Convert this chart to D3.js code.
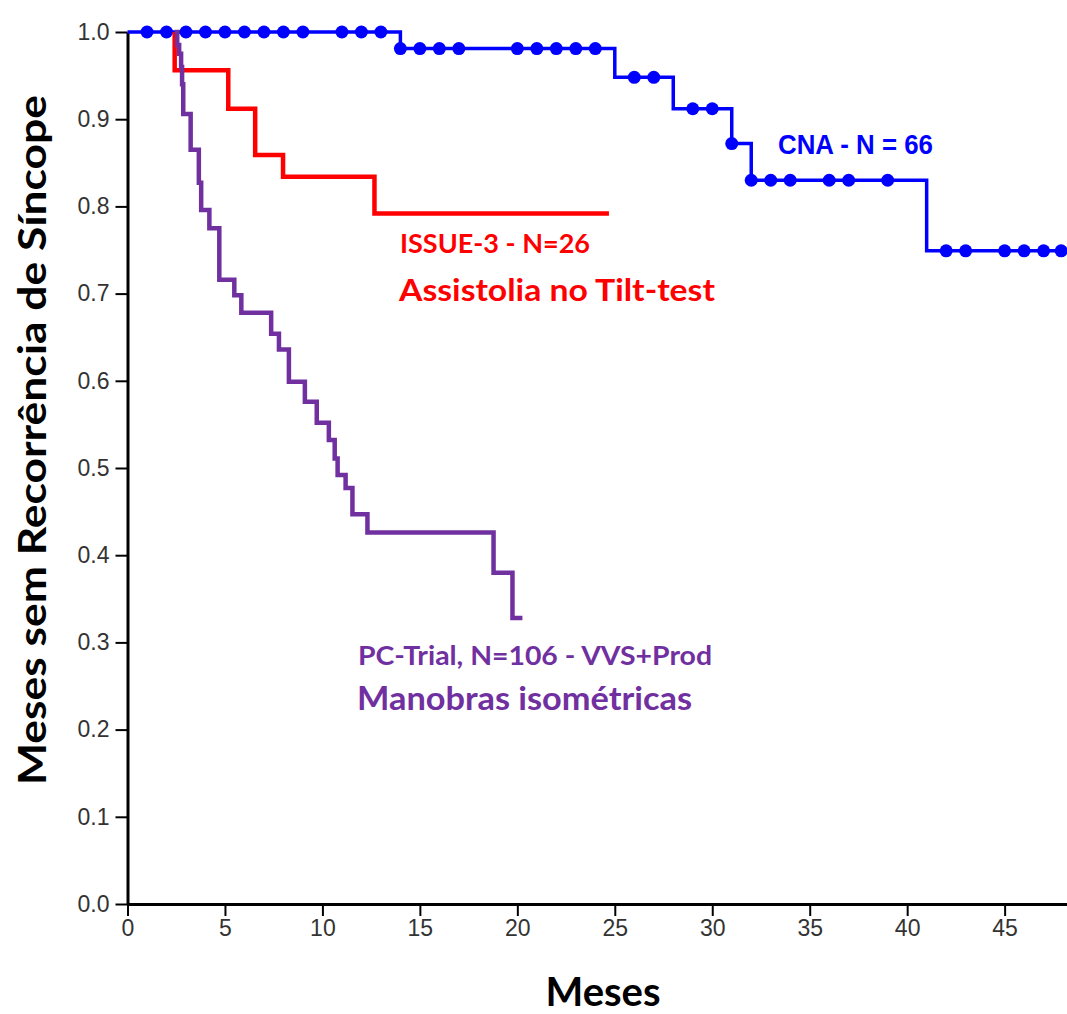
<!DOCTYPE html>
<html><head><meta charset="utf-8">
<script src="https://cdn.jsdelivr.net/npm/d3@7"></script>
<style>body{margin:0;background:#fff}svg{display:block}</style>
</head><body><svg id="c" width="1067" height="1014"></svg>
<script>
// ---- data ----
const xTickValues = [0,5,10,15,20,25,30,35,40,45];
const yTickValues = [0,0.1,0.2,0.3,0.4,0.5,0.6,0.7,0.8,0.9,1.0];

// CNA (blue) Kaplan-Meier
const cnaEventTimes = [0,14,25,28,31,32,41];
const cnaSurvival   = [1.0,0.981,0.948,0.912,0.872,0.830,0.749];
const cnaEnd = 48.2;
const cnaCensored = [1,2,3,4,5,6,7,8,9,11,12,13,14,15,16,17,20,21,22,23,24,26,27,29,30,31,32,33,34,36,37,39,42,43,45,46,47,47.9];

// ISSUE-3 (red)
const issueStart = 2.42;
const issueEventTimes = [2.42,5.17,6.55,7.98,12.67];
const issueSurvival   = [0.956,0.912,0.859,0.834,0.792];
const issueEnd = 24.7;

// PC-Trial (purple)
const pcStart = 2.42;
const pcEventTimes = [2.55,2.65,2.75,2.8,2.86,3.24,3.66,3.78,4.2,4.71,5.48,5.84,7.37,7.77,8.28,9.1,9.71,10.33,10.63,10.78,11.19,11.54,12.31,18.78,19.75];
const pcSurvival   = [0.985,0.975,0.96,0.94,0.906,0.865,0.827,0.796,0.775,0.716,0.698,0.678,0.654,0.636,0.599,0.576,0.552,0.532,0.511,0.492,0.477,0.447,0.426,0.380,0.328];
const pcEnd = 20.26;

// ---- chart ----
const svg = d3.select("#c");
const x = d3.scaleLinear().domain([0,48.2]).range([127.5,1067]);
const y = d3.scaleLinear().domain([0,1]).range([904,32]);

function stepPoints(start, times, surv, end){
  const pts = [[start,1]];
  times.forEach((t,i)=>pts.push([t,surv[i]]));
  pts.push([end, surv[surv.length-1]]);
  return pts;
}
const line = d3.line().x(d=>x(d[0])).y(d=>y(d[1])).curve(d3.curveStepAfter);

// axes
const yAxis = d3.axisLeft(y).tickValues(yTickValues).tickFormat(d3.format(".1f")).tickSize(12).tickSizeOuter(0).tickPadding(6);
const gy = svg.append("g").attr("transform","translate(127.5,0)").call(yAxis);
gy.select(".domain").attr("stroke","#000").attr("stroke-width",3);
gy.selectAll(".tick line").attr("stroke","#000").attr("stroke-width",2);
gy.selectAll(".tick text").attr("font-family","Liberation Sans, Arial, sans-serif").attr("font-size",23).attr("fill","#333");

const xAxis = d3.axisBottom(x).tickValues(xTickValues).tickSize(12).tickSizeOuter(0).tickPadding(4);
const gx = svg.append("g").attr("transform","translate(0,904)").call(xAxis);
gx.select(".domain").attr("stroke","#000").attr("stroke-width",3);
gx.selectAll(".tick line").attr("stroke","#000").attr("stroke-width",2);
gx.selectAll(".tick text").attr("font-family","Liberation Sans, Arial, sans-serif").attr("font-size",23).attr("fill","#333");

// blue
const cnaPts = [];
cnaEventTimes.forEach((t,i)=>cnaPts.push([t,cnaSurvival[i]]));
cnaPts.push([cnaEnd, cnaSurvival[cnaSurvival.length-1]]);
svg.append("path").attr("d",line(cnaPts)).attr("fill","none").attr("stroke","#0000ff").attr("stroke-width",3.5);
function cnaAt(t){ let s=1; cnaEventTimes.forEach((et,i)=>{ if(et<=t) s=cnaSurvival[i];}); return s; }
svg.append("g").selectAll("circle").data(cnaCensored).join("circle")
  .attr("cx",d=>x(d)).attr("cy",d=>y(cnaAt(d))).attr("r",6.5).attr("fill","#0000ff");

// red
svg.append("path").attr("d",line(stepPoints(issueStart,issueEventTimes,issueSurvival,issueEnd)))
  .attr("fill","none").attr("stroke","#ff0000").attr("stroke-width",4.5);
// purple
svg.append("path").attr("d",line(stepPoints(pcStart,pcEventTimes,pcSurvival,pcEnd)))
  .attr("fill","none").attr("stroke","#7030a0").attr("stroke-width",4.5);

// annotations
function label(txt, xx, yy, size, color, len, family){
  svg.append("text").attr("x",xx).attr("y",yy).attr("font-family",family||"Lato, 'Open Sans', sans-serif")
    .attr("font-weight","bold").attr("font-size",size).attr("fill",color)
    .attr("textLength",len).attr("lengthAdjust","spacingAndGlyphs").text(txt);
}
label("CNA - N = 66", 778, 154, 28, "#0000ff", 155, "'Liberation Sans Narrow','Liberation Sans',Arial,sans-serif");
label("ISSUE-3 - N=26", 400, 253, 26, "#ff0000", 190);
label("Assistolia no Tilt-test", 399, 301, 30, "#ff0000", 316);
label("PC-Trial, N=106 - VVS+Prod", 358, 665, 26, "#7030a0", 354);
label("Manobras isométricas", 357, 710, 33, "#7030a0", 335);

// axis titles
svg.append("text").attr("transform","translate(46,440) rotate(-90)").attr("text-anchor","middle")
  .attr("font-family","Lato, 'Open Sans', sans-serif").attr("font-weight","bold").attr("font-size",39)
  .attr("fill","#000").attr("textLength",690).attr("lengthAdjust","spacingAndGlyphs")
  .text("Meses sem Recorrência de Síncope");
svg.append("text").attr("x",603).attr("y",1006).attr("text-anchor","middle")
  .attr("font-family","Lato, 'Open Sans', sans-serif").attr("font-weight","bold").attr("font-size",40)
  .attr("fill","#000").text("Meses");
</script></body></html>
